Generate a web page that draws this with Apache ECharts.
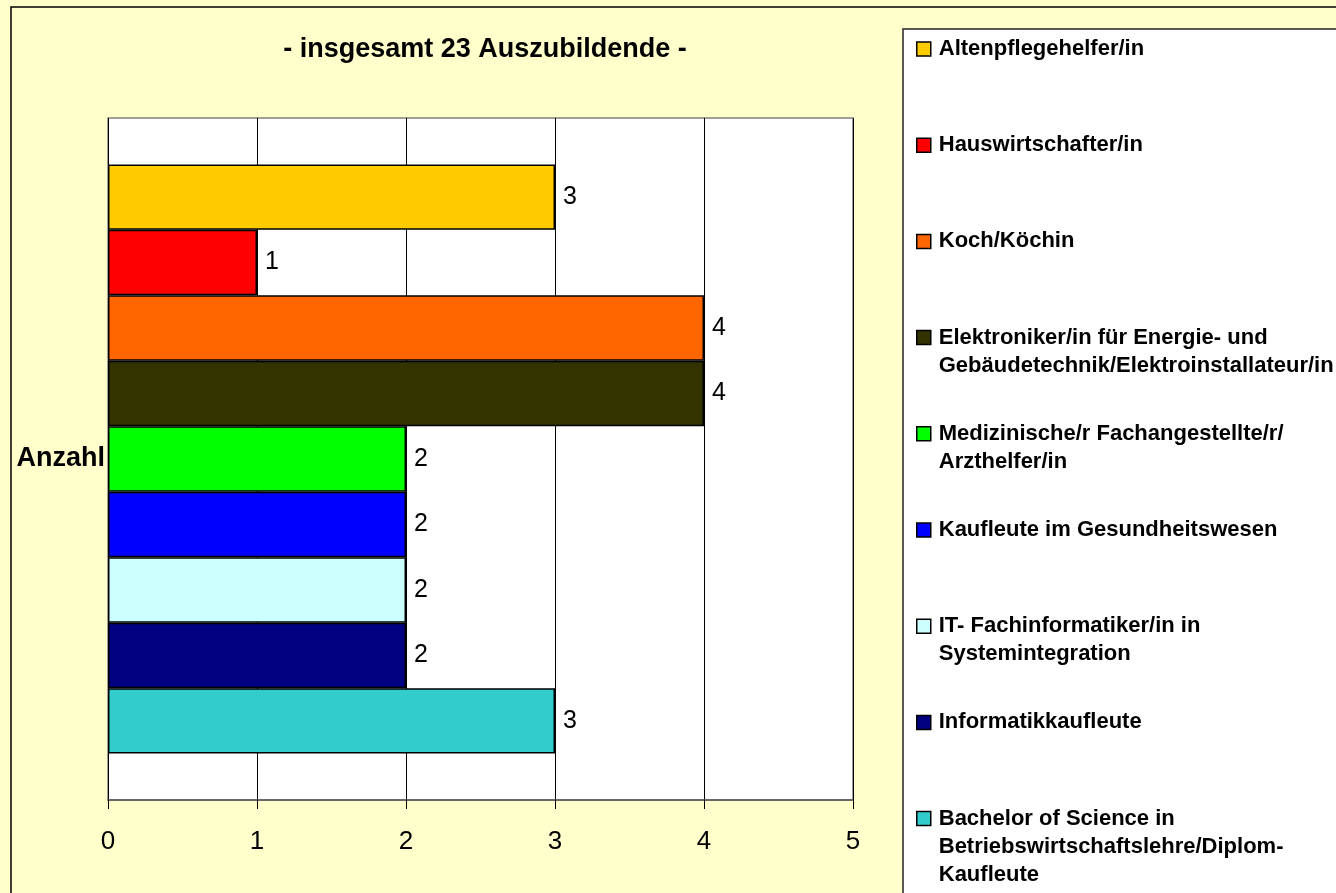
<!DOCTYPE html>
<html>
<head>
<meta charset="utf-8">
<title>Auszubildende</title>
<script src="https://cdn.jsdelivr.net/npm/echarts@6/dist/echarts.min.js"></script>
<style>
  html, body { margin: 0; padding: 0; background: #ffffcc; }
  #chart { width: 1336px; height: 893px; }
</style>
</head>
<body>
<div id="chart"></div>
<script>
'use strict';

/*-----------------------------------------------
|   Data
-----------------------------------------------*/
const categories = ['Anzahl'];
const titleText = '- insgesamt 23 Auszubildende -';
const seriesNames = [
  'Altenpflegehelfer/in',
  'Hauswirtschafter/in',
  'Koch/Köchin',
  'Elektroniker/in für Energie- und\nGebäudetechnik/Elektroinstallateur/in',
  'Medizinische/r Fachangestellte/r/\nArzthelfer/in',
  'Kaufleute im Gesundheitswesen',
  'IT- Fachinformatiker/in in\nSystemintegration',
  'Informatikkaufleute',
  'Bachelor of Science in\nBetriebswirtschaftslehre/Diplom-\nKaufleute',
];
const seriesValues = [3, 1, 4, 4, 2, 2, 2, 2, 3];
const seriesColors = [
  '#ffcc00', '#ff0000', '#ff6600', '#333300', '#00ff00',
  '#0000ff', '#ccffff', '#000080', '#33cccc',
];
const xTicks = [0, 1, 2, 3, 4, 5];

/*-----------------------------------------------
|   Layout
-----------------------------------------------*/
const FONT = '"Liberation Sans", Arial, sans-serif';
const LEGEND_LINE = 28;
const LEGEND_FIRST = 49;
const LEGEND_STEP = 96.2;

const series = seriesNames.map((name, i) => ({
  name,
  type: 'bar',
  data: [seriesValues[i]],
  barGap: '0%',
  barCategoryGap: '13.6%',
  itemStyle: { color: seriesColors[i], borderColor: '#000', borderWidth: 1.5 },
  label: {
    show: true,
    position: 'right',
    distance: 8,
    color: '#000',
    fontFamily: FONT,
    fontSize: 25,
  },
}));

// one legend per entry; blank lines in front keep the icon on the first text line
const legends = seriesNames.map((name, i) => {
  const lines = name.split('\n').length;
  const center = LEGEND_FIRST + i * LEGEND_STEP;
  return {
    data: [name],
    orient: 'vertical',
    left: 916,
    top: center - ((2 * lines - 1) * LEGEND_LINE) / 2,
    padding: 0,
    itemWidth: 14,
    itemHeight: 14,
    itemGap: 0,
    icon: 'rect',
    selectedMode: false,
    formatter: (n) => '\n'.repeat(lines - 1) + n,
    itemStyle: { borderColor: '#000', borderWidth: 1.5 },
    textStyle: {
      color: '#000',
      fontFamily: FONT,
      fontWeight: 'bold',
      fontSize: 22,
      lineHeight: LEGEND_LINE,
      padding: [0, 0, 0, 3],
    },
  };
});

const chart = echarts.init(document.getElementById('chart'));

chart.setOption({
  animation: false,
  backgroundColor: '#ffffcc',
  graphic: [
    {
      type: 'rect',
      silent: true,
      z: -10,
      shape: { x: 11, y: 7, width: 1400, height: 1000 },
      style: { fill: '#ffffcc', stroke: '#000', lineWidth: 1.5 },
    },
    {
      type: 'rect',
      silent: true,
      z: -5,
      shape: { x: 903, y: 29, width: 500, height: 1000 },
      style: { fill: '#fff', stroke: '#222', lineWidth: 1.5 },
    },
  ],
  title: {
    text: titleText,
    left: 480,
    top: 31,
    textAlign: 'center',
    textStyle: {
      color: '#000',
      fontFamily: FONT,
      fontWeight: 'bold',
      fontSize: 27,
    },
  },
  legend: legends,
  grid: {
    left: 108,
    top: 118,
    width: 745,
    height: 682,
    show: true,
    backgroundColor: '#fff',
    borderColor: '#808080',
    borderWidth: 1.5,
  },
  xAxis: {
    type: 'value',
    min: xTicks[0],
    max: xTicks[xTicks.length - 1],
    interval: 1,
    axisLine: { show: true, lineStyle: { color: '#555', width: 1.5 } },
    axisTick: { show: true, length: 9, lineStyle: { color: '#000' } },
    splitLine: { show: true, lineStyle: { color: '#000', width: 1 } },
    axisLabel: {
      color: '#000',
      fontFamily: FONT,
      fontSize: 26,
      margin: 29,
    },
  },
  yAxis: {
    type: 'category',
    data: categories,
    axisLine: { show: false },
    axisTick: { show: false },
    axisLabel: {
      color: '#000',
      fontFamily: FONT,
      fontWeight: 'bold',
      fontSize: 27,
      margin: 3,
    },
  },
  series,
});
</script>
</body>
</html>
